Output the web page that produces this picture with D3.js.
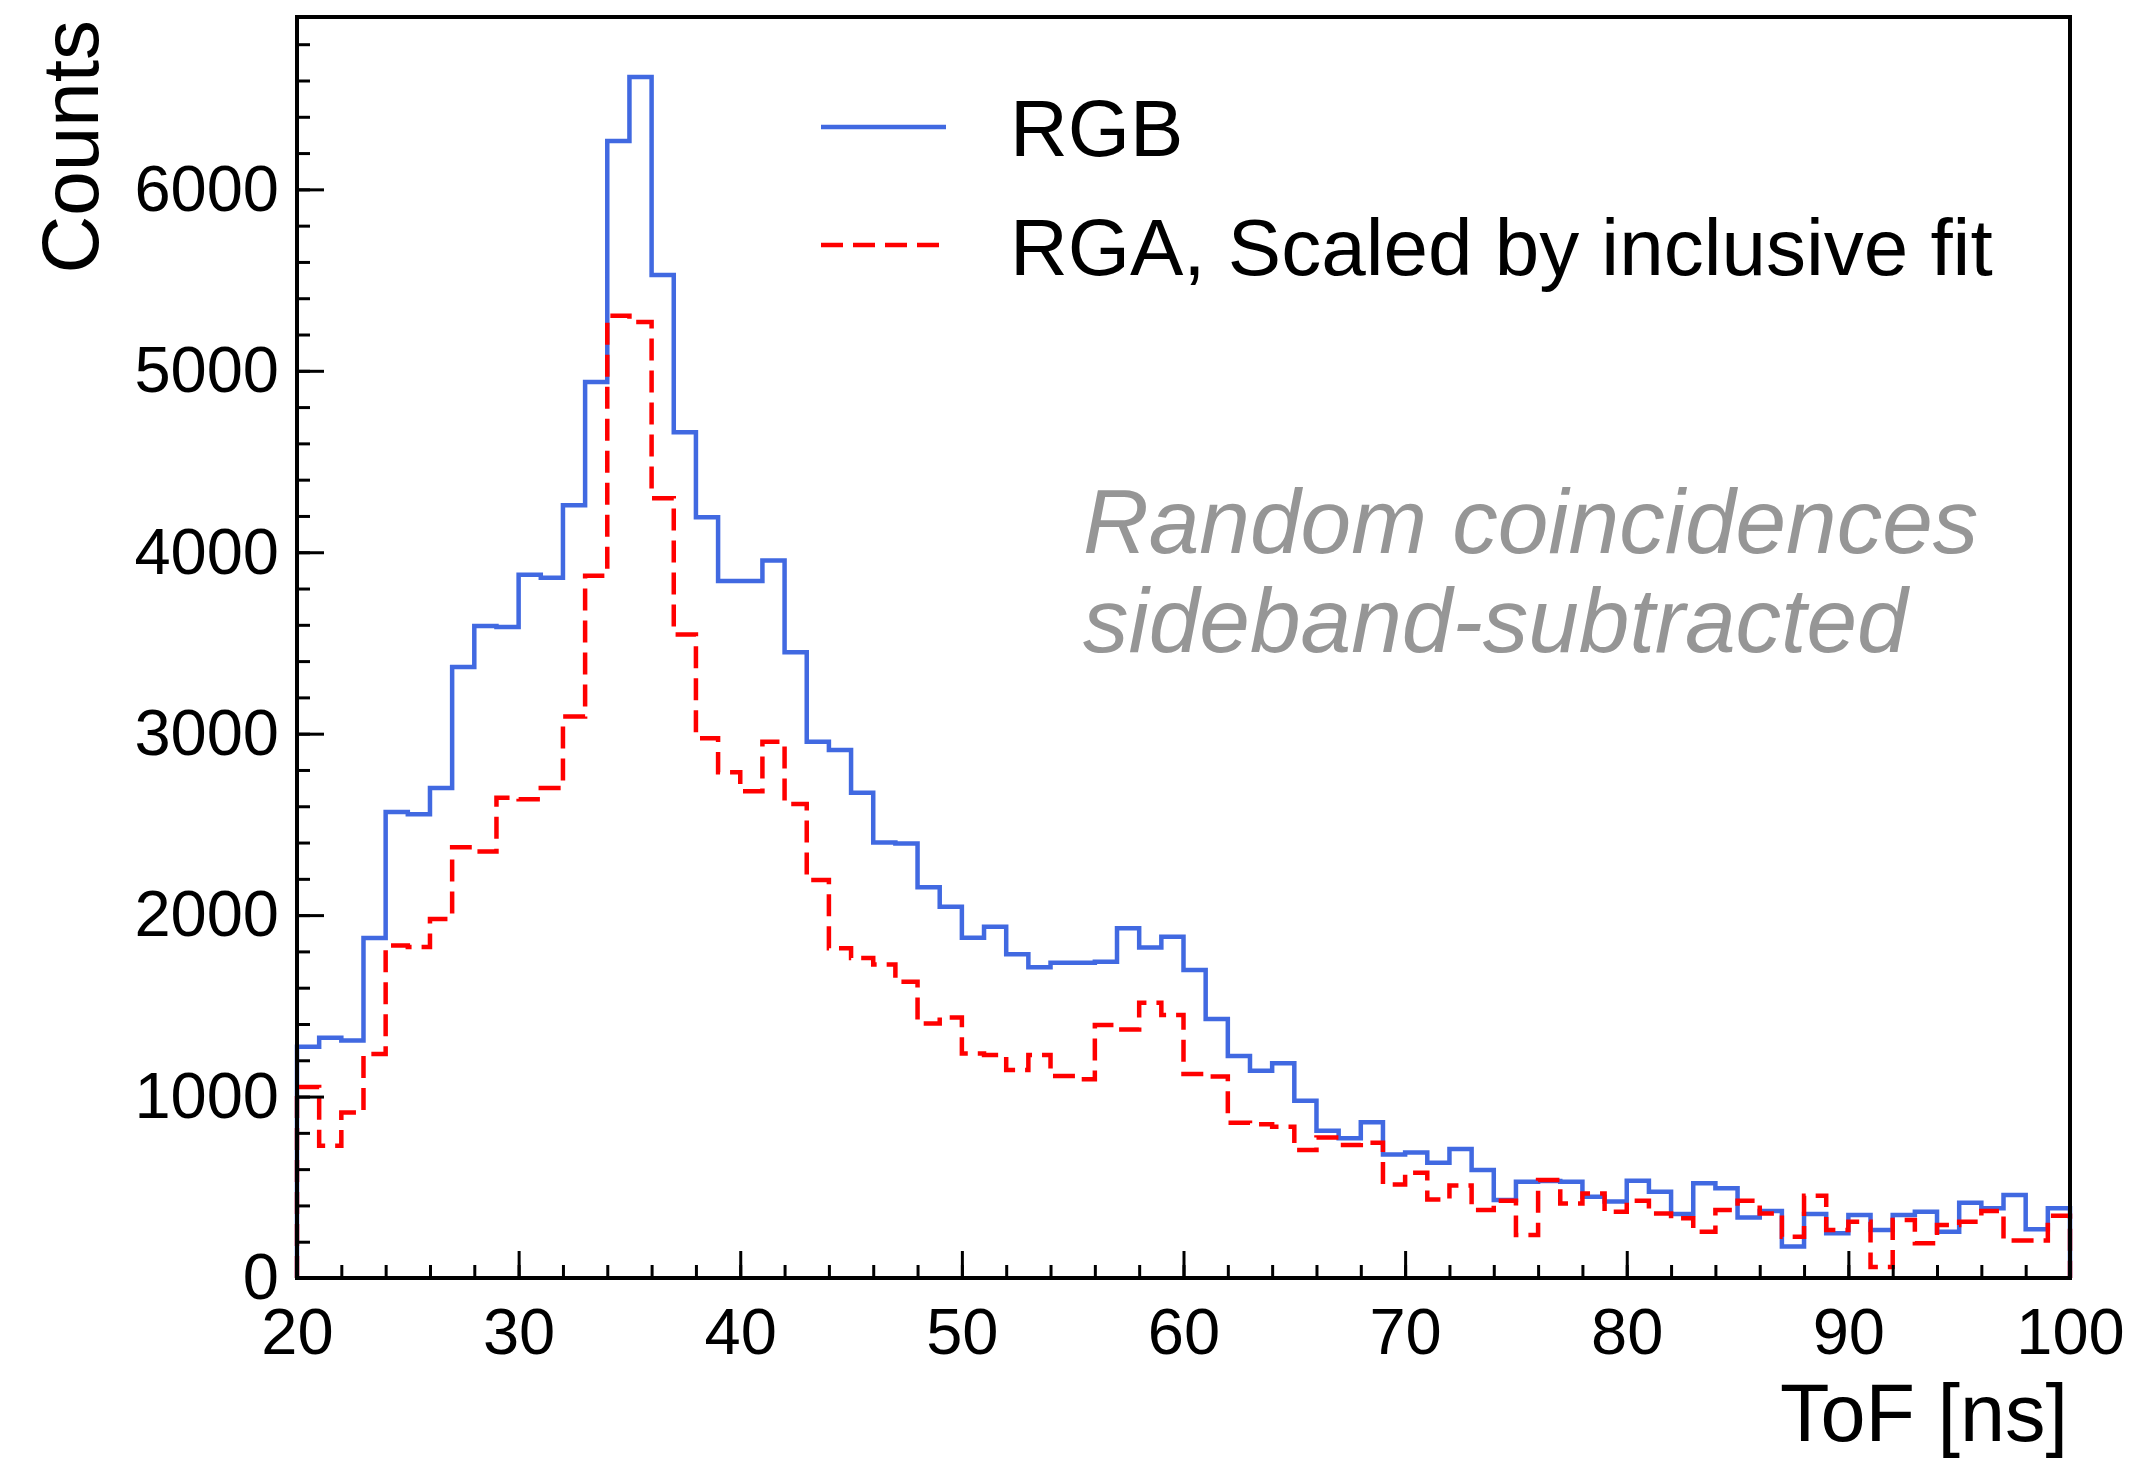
<!DOCTYPE html>
<html>
<head>
<meta charset="utf-8">
<script src="https://cdn.jsdelivr.net/npm/d3@7"></script>
<style>
  html, body { margin: 0; padding: 0; background: #ffffff; }
  svg { display: block; font-family: "Liberation Sans", Arial, Helvetica, sans-serif; }
</style>
</head>
<body>
<svg id="chart" width="2131" height="1458"></svg>
<script>
// ToF histogram, 1 ns bins from 20 to 100 ns
const binEdges = d3.range(20, 101, 1);

const rgbCounts = [
  1274, 1324, 1309, 1874, 2568, 2556, 2700, 3368, 3594, 3588,
  3876, 3859, 4259, 4938, 6267, 6619, 5528, 4662, 4193, 3841,
  3841, 3954, 3449, 2956, 2910, 2675, 2400, 2395, 2153, 2046,
  1875, 1936, 1785, 1712, 1737, 1737, 1743, 1927, 1822, 1881,
  1697, 1427, 1223, 1142, 1183, 977, 812, 770, 858, 681,
  692, 635, 711, 595, 430, 531, 534, 531, 448, 421,
  536, 476, 353, 522, 494, 334, 369, 173, 353, 246,
  347, 265, 347, 365, 255, 415, 384, 457, 268, 384
];

const rgaScaledCounts = [
  1053, 729, 912, 1235, 1832, 1824, 1979, 2374, 2350, 2647,
  2638, 2700, 3094, 3870, 5303, 5269, 4298, 3546, 2975, 2788,
  2683, 2956, 2613, 2194, 1818, 1764, 1728, 1633, 1403, 1436,
  1238, 1229, 1146, 1229, 1113, 1095, 1394, 1370, 1517, 1449,
  1125, 1110, 856, 848, 834, 705, 775, 733, 746, 516,
  580, 433, 510, 375, 426, 237, 540, 411, 466, 365,
  426, 356, 329, 255, 375, 426, 356, 228, 454, 265,
  310, 60, 320, 191, 292, 310, 369, 207, 207, 343
];

const xMajorTicks = [20, 30, 40, 50, 60, 70, 80, 90, 100];
const xMinorTicks = d3.range(20, 101, 2);
const yMajorTicks = [0, 1000, 2000, 3000, 4000, 5000, 6000];
const yMinorTicks = d3.range(0, 6801, 200);

const seriesNames = ["RGB", "RGA, Scaled by inclusive fit"];
const xTitle = "ToF [ns]";
const yTitle = "Counts";
const noteLines = ["Random coincidences", "sideband-subtracted"];

const frame = { left: 297, right: 2070, top: 17, bottom: 1278 };
const blue = "#4169e1";
const red = "#ff0000";
const lineW = 4.5;
const dash = "22 10";

const svg = d3.select("#chart");

const x = d3.scaleLinear().domain([20, 100]).range([frame.left, frame.right]);
const yMax = d3.max(rgbCounts) * 1.05;
const y = d3.scaleLinear().domain([0, yMax]).range([frame.bottom, frame.top]);

// step outline starting and ending on the baseline
function stepPath(values) {
  const p = d3.path();
  p.moveTo(x(binEdges[0]), y(0));
  values.forEach((v, i) => {
    p.lineTo(x(binEdges[i]), y(v));
    p.lineTo(x(binEdges[i + 1]), y(v));
  });
  p.lineTo(x(binEdges[binEdges.length - 1]), y(0));
  return p.toString();
}

const plot = svg.append("g");

plot.append("path")
  .attr("d", stepPath(rgbCounts))
  .attr("fill", "none")
  .attr("stroke", blue)
  .attr("stroke-width", lineW)
  .attr("stroke-linejoin", "miter");

plot.append("path")
  .attr("d", stepPath(rgaScaledCounts))
  .attr("fill", "none")
  .attr("stroke", red)
  .attr("stroke-width", lineW)
  .attr("stroke-dasharray", dash)
  .attr("stroke-linejoin", "miter");

// frame
svg.append("rect")
  .attr("x", frame.left).attr("y", frame.top)
  .attr("width", frame.right - frame.left)
  .attr("height", frame.bottom - frame.top)
  .attr("fill", "none")
  .attr("stroke", "#000")
  .attr("stroke-width", 4);

// x axis: inward ticks
const xMinorAxis = d3.axisBottom(x).tickValues(xMinorTicks).tickSize(-13).tickFormat("");
const xMajorAxis = d3.axisBottom(x).tickValues(xMajorTicks).tickSize(-27).tickPadding(30).tickFormat(d3.format("d"));

const gxMinor = svg.append("g").attr("transform", `translate(0,${frame.bottom})`).call(xMinorAxis);
const gxMajor = svg.append("g").attr("transform", `translate(0,${frame.bottom})`).call(xMajorAxis);

// y axis: inward ticks
const yMinorAxis = d3.axisLeft(y).tickValues(yMinorTicks).tickSize(-13).tickFormat("");
const yMajorAxis = d3.axisLeft(y).tickValues(yMajorTicks).tickSize(-27).tickPadding(18).tickFormat(d3.format("d"));

const gyMinor = svg.append("g").attr("transform", `translate(${frame.left},0)`).call(yMinorAxis);
const gyMajor = svg.append("g").attr("transform", `translate(${frame.left},0)`).call(yMajorAxis);

[gxMinor, gxMajor, gyMinor, gyMajor].forEach(g => {
  g.select(".domain").remove();
  g.selectAll(".tick line").attr("stroke", "#000").attr("stroke-width", 3);
  g.selectAll(".tick text")
    .attr("fill", "#000")
    .style("font-family", "'Liberation Sans', Arial, sans-serif")
    .style("font-size", "65px");
});

// axis titles
svg.append("text")
  .attr("x", 2068).attr("y", 1441)
  .attr("text-anchor", "end")
  .style("font-size", "81px")
  .attr("fill", "#000")
  .text(xTitle);

svg.append("text")
  .attr("transform", "translate(98,20) rotate(-90)")
  .attr("text-anchor", "end")
  .style("font-size", "80px")
  .attr("fill", "#000")
  .text(yTitle);

// legend
const legend = svg.append("g");
const legendRows = [
  { name: seriesNames[0], color: blue, dashed: false, y: 127, base: 156 },
  { name: seriesNames[1], color: red, dashed: true, y: 245, base: 275 }
];
legendRows.forEach(r => {
  legend.append("line")
    .attr("x1", 821).attr("x2", r.dashed ? 940 : 946)
    .attr("y1", r.y).attr("y2", r.y)
    .attr("stroke", r.color)
    .attr("stroke-width", lineW)
    .attr("stroke-dasharray", r.dashed ? dash : null);
  legend.append("text")
    .attr("x", 1010).attr("y", r.base)
    .style("font-size", "80px")
    .attr("fill", "#000")
    .text(r.name);
});

// annotation
const note = svg.append("text")
  .attr("fill", "#969696")
  .style("font-size", "91px")
  .style("font-style", "italic");
noteLines.forEach((t, i) => {
  note.append("tspan")
    .attr("x", 1083)
    .attr("y", i === 0 ? 553 : 652)
    .text(t);
});
</script>
</body>
</html>
